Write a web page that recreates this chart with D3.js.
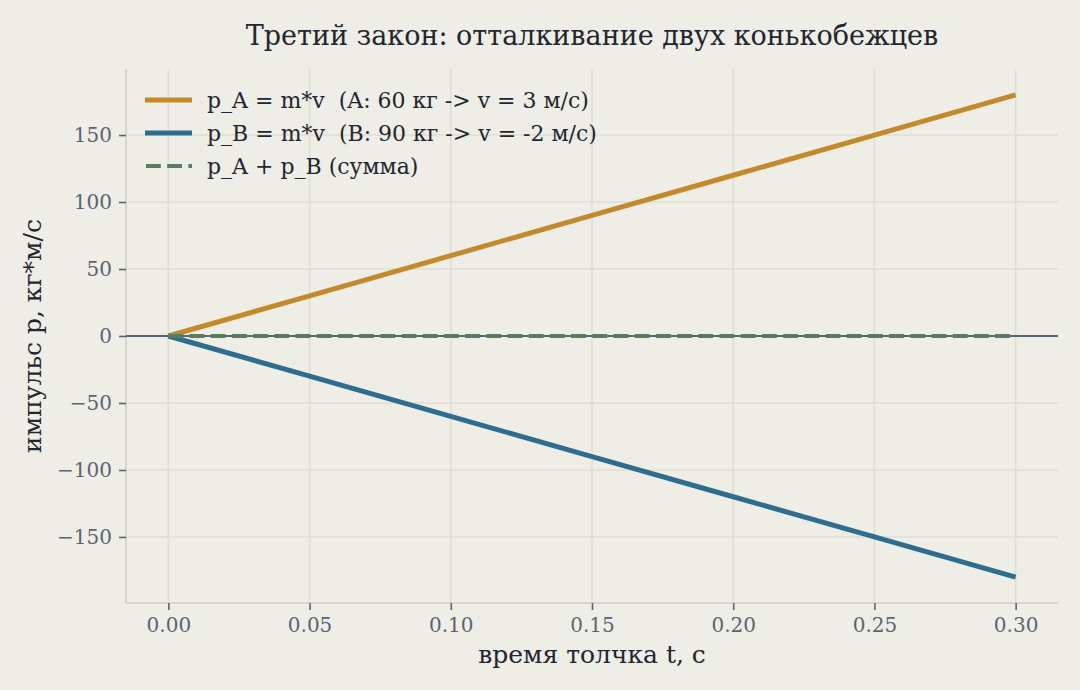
<!DOCTYPE html>
<html>
<head>
<meta charset="utf-8">
<script src="https://cdn.jsdelivr.net/npm/d3@7"></script>
<style>
  html, body { margin: 0; padding: 0; background: #eeede6; }
  svg { display: block; }
  text { font-family: "DejaVu Serif", serif; white-space: pre; }
</style>
</head>
<body>
<svg id="chart" width="1080" height="690"></svg>
<script>
// ---- data ----
const timeValues = [0, 0.05, 0.10, 0.15, 0.20, 0.25, 0.30];
const pAValues   = [0, 30, 60, 90, 120, 150, 180];
const pBValues   = [0, -30, -60, -90, -120, -150, -180];
const sumValues  = [0, 0, 0, 0, 0, 0, 0];
const xTicks = [0, 0.05, 0.10, 0.15, 0.20, 0.25, 0.30];
const yTicks = [-150, -100, -50, 0, 50, 100, 150];
const seriesNames = [
  "p_A = m*v  (A: 60 кг -> v = 3 м/с)",
  "p_B = m*v  (B: 90 кг -> v = -2 м/с)",
  "p_A + p_B (сумма)"
];
const titleText = "Третий закон: отталкивание двух конькобежцев";
const xLabel = "время толчка t, с";
const yLabel = "импульс p, кг*м/с";

// ---- layout ----
const W = 1080, H = 690;
const L = 126, R = 1058, T = 69, B = 603;
const colA = "#c4892b", colB = "#2d6e8e", colS = "#5b7b5e";
const gridCol = "#e0ded2", spineCol = "#d9d5c8", tickCol = "#5a6470", textCol = "#22262e";

const svg = d3.select("#chart");
svg.append("rect").attr("width", W).attr("height", H).attr("fill", "#eeede6");

const x = d3.scaleLinear().domain([-0.015, 0.315]).range([L, R]);
const y = d3.scaleLinear().domain([-199.3, 199.3]).range([B, T]);

// grid
const g = svg.append("g");
g.selectAll("line.vg").data(xTicks).join("line")
  .attr("x1", d => x(d)).attr("x2", d => x(d)).attr("y1", T).attr("y2", B)
  .attr("stroke", gridCol).attr("stroke-width", 1.6);
g.selectAll("line.hg").data(yTicks).join("line")
  .attr("y1", d => y(d)).attr("y2", d => y(d)).attr("x1", L).attr("x2", R)
  .attr("stroke", gridCol).attr("stroke-width", 1.6);

// axes
const fmtMinus = s => s.replace("-", "\u2212");
const xAxis = d3.axisBottom(x).tickValues(xTicks).tickFormat(d => d3.format(".2f")(d))
  .tickSize(7).tickPadding(8);
const yAxis = d3.axisLeft(y).tickValues(yTicks).tickFormat(d => fmtMinus(String(d)))
  .tickSize(7).tickPadding(7);

const gx = svg.append("g").attr("transform", `translate(0,${B})`).call(xAxis);
const gy = svg.append("g").attr("transform", `translate(${L},0)`).call(yAxis);
[gx, gy].forEach(a => {
  a.select(".domain").attr("stroke", spineCol).attr("stroke-width", 2);
  a.selectAll(".tick line").attr("stroke", tickCol).attr("stroke-width", 1.6);
  a.selectAll(".tick text").attr("fill", tickCol)
    .style("font-family", "DejaVu Serif").style("font-size", "20px");
});
gx.select(".domain").attr("d", `M${L},0H${R}`);
gy.select(".domain").attr("d", `M0,${T}V${B}`);

// zero line
svg.append("line").attr("x1", L).attr("x2", R).attr("y1", y(0)).attr("y2", y(0))
  .attr("stroke", tickCol).attr("stroke-width", 2.2);

// series
const line = d3.line().x(d => x(d[0])).y(d => y(d[1]));
const mk = vals => timeValues.map((t, i) => [t, vals[i]]);
svg.append("path").datum(mk(pAValues)).attr("d", line)
  .attr("fill", "none").attr("stroke", colA).attr("stroke-width", 5);
svg.append("path").datum(mk(pBValues)).attr("d", line)
  .attr("fill", "none").attr("stroke", colB).attr("stroke-width", 5);
svg.append("path").datum(mk(sumValues)).attr("d", line)
  .attr("fill", "none").attr("stroke", colS).attr("stroke-width", 4)
  .attr("stroke-dasharray", "14.8,6.4");

// legend
const legend = [
  {name: seriesNames[0], color: colA, dash: null, w: 5},
  {name: seriesNames[1], color: colB, dash: null, w: 5},
  {name: seriesNames[2], color: colS, dash: "14.8,6.4", w: 4}
];
const lg = svg.append("g");
legend.forEach((d, i) => {
  const yy = 100 + i * 33;
  const ln = lg.append("line").attr("x1", 145).attr("x2", 192).attr("y1", yy).attr("y2", yy)
    .attr("stroke", d.color).attr("stroke-width", d.w);
  if (d.dash) ln.attr("stroke-dasharray", d.dash).attr("x1", 146);
  lg.append("text").attr("x", 207).attr("y", yy).attr("dy", "0.35em")
    .attr("fill", textCol).style("font-size", "22px").text(d.name);
});

// title & labels
svg.append("text").attr("x", (L + R) / 2).attr("y", 45).attr("text-anchor", "middle")
  .attr("fill", textCol).style("font-size", "27px").text(titleText);
svg.append("text").attr("x", (L + R) / 2).attr("y", 663).attr("text-anchor", "middle")
  .attr("fill", textCol).style("font-size", "25px").text(xLabel);
svg.append("text").attr("transform", `translate(41,${(T + B) / 2}) rotate(-90)`)
  .attr("text-anchor", "middle").attr("fill", textCol).style("font-size", "25px").text(yLabel);
</script>
</body>
</html>
